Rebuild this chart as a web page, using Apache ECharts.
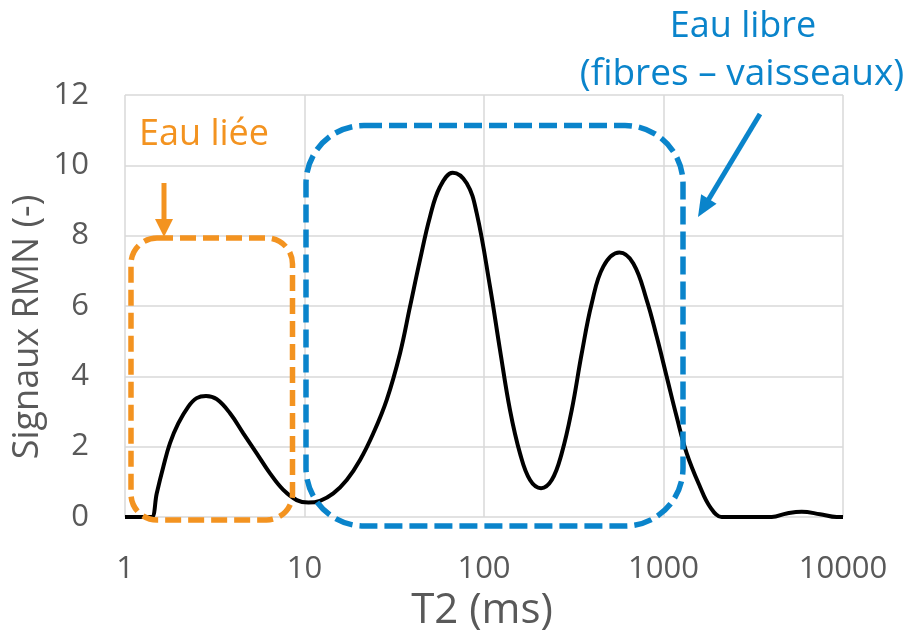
<!DOCTYPE html>
<html><head><meta charset="utf-8">
<script src="https://cdn.jsdelivr.net/npm/echarts@6/dist/echarts.min.js"></script>
<style>html,body{margin:0;padding:0;background:#fff}#c{width:912px;height:630px}</style>
</head><body><div id="c"></div>
<script>
// T2 (ms) sample positions and NMR signal
const t2 = [1, 1.3, 1.408, 1.502, 1.635, 1.781, 1.981, 2.253, 2.508, 2.827, 3.243, 3.846, 4.561, 5.416, 6.425, 7.62, 9.049, 10.5, 12.2, 14.47, 17.19, 20.39, 24.18, 28.71, 34.04, 38.7, 44.0, 50.02, 56.88, 66.93, 80.1, 91.06, 108.0, 122.8, 139.6, 158.7, 180.5, 207.8, 238.4, 271.0, 308.1, 350.3, 398.1, 461.9, 567.3, 678.9, 806.1, 916.5, 1042, 1184, 1347, 1597, 1816, 2110, 2300, 4007, 4858, 5888, 7445, 9225, 10000];
const signal = [0, 0, 0, 0.67, 1.43, 2.10, 2.66, 3.14, 3.38, 3.44, 3.35, 2.95, 2.38, 1.81, 1.24, 0.77, 0.48, 0.41, 0.46, 0.67, 1.05, 1.62, 2.38, 3.33, 4.65, 5.98, 7.31, 8.54, 9.39, 9.79, 9.49, 8.64, 6.55, 4.75, 3.04, 1.81, 1.05, 0.82, 1.05, 1.81, 3.04, 4.65, 6.07, 7.12, 7.52, 7.21, 6.17, 5.13, 3.99, 2.85, 1.81, 0.86, 0.29, 0, 0, 0, 0.1, 0.15, 0.08, 0, 0];
const xTickLabels = ['1', '10', '100', '1000', '10000'];
const yTickLabels = ['0', '2', '4', '6', '8', '10', '12'];
const xName = 'T2 (ms)';
const yName = 'Signaux RMN (-)';
const boundLabel = 'Eau liée';
const freeLabel1 = 'Eau libre';
const freeLabel2 = '(fibres – vaisseaux)';

const FONT = '"Open Sans", "Noto Sans", sans-serif';
const GRAY = '#595959';
const ORANGE = '#F39320';
const BLUE = '#0A84CB';

const chart = echarts.init(document.getElementById('c'), null, {renderer: 'canvas'});
const points = t2.map((x, i) => [x, signal[i]]);

chart.setOption({
  animation: false,
  backgroundColor: '#fff',
  grid: {left: 125, right: 69, top: 95, bottom: 113},
  xAxis: {
    type: 'log', logBase: 10, min: 1, max: 10000,
    axisLine: {show: false}, axisTick: {show: false},
    splitLine: {show: true, lineStyle: {color: '#d9d9d9', width: 1.5}},
    axisLabel: {color: GRAY, fontFamily: FONT, fontSize: 31, margin: 37,
      formatter: v => { const k = Math.round(Math.log10(v)); return xTickLabels[k] !== undefined ? xTickLabels[k] : ''; }}
  },
  yAxis: {
    type: 'value', min: 0, max: 12, interval: 2,
    axisLine: {show: false}, axisTick: {show: false},
    splitLine: {show: true, lineStyle: {color: '#d9d9d9', width: 1.5}},
    axisLabel: {color: GRAY, fontFamily: FONT, fontSize: 31, margin: 36, padding: [13, 0, 0, 0],
      formatter: v => yTickLabels[Math.round(v / 2)]}
  },
  series: [{
    type: 'line', data: points, smooth: 0.4, symbol: 'none',
    lineStyle: {color: '#000', width: 4}, z: 3
  }]
});

function arrowHead(tipX, tipY, fromX, fromY, len, half) {
  const dx = tipX - fromX, dy = tipY - fromY, L = Math.hypot(dx, dy);
  const ux = dx / L, uy = dy / L, nx = -uy, ny = ux;
  const bx = tipX - ux * len, by = tipY - uy * len;
  return {points: [[tipX, tipY], [bx + nx * half, by + ny * half], [bx - nx * half, by - ny * half]], base: [bx + ux * 2, by + uy * 2]};
}
const oHead = arrowHead(164, 237, 164, 183, 18, 9);
const bHead = arrowHead(698, 217, 760, 114, 21, 9);

chart.setOption({
  graphic: [
    {type: 'rect', z: 10, shape: {x: 131, y: 238, width: 161.5, height: 282, r: 26},
      style: {fill: 'none', stroke: ORANGE, lineWidth: 5.5, lineDash: [16, 7]}},
    {type: 'rect', z: 10, shape: {x: 306, y: 125.5, width: 377, height: 400.5, r: 58},
      style: {fill: 'none', stroke: BLUE, lineWidth: 5.5, lineDash: [18, 7]}},
    {type: 'line', z: 10, shape: {x1: 164, y1: 183, x2: oHead.base[0], y2: oHead.base[1]},
      style: {stroke: ORANGE, lineWidth: 5}},
    {type: 'polygon', z: 10, shape: {points: oHead.points}, style: {fill: ORANGE}},
    {type: 'line', z: 10, shape: {x1: 760, y1: 114, x2: bHead.base[0], y2: bHead.base[1]},
      style: {stroke: BLUE, lineWidth: 5}},
    {type: 'polygon', z: 10, shape: {points: bHead.points}, style: {fill: BLUE}},
    {type: 'text', z: 10, x: 204, y: 134.7, style: {text: boundLabel, fill: ORANGE, font: '36px ' + FONT, textAlign: 'center', textVerticalAlign: 'middle'}},
    {type: 'text', z: 10, x: 743, y: 26.7, style: {text: freeLabel1, fill: BLUE, font: '36px ' + FONT, textAlign: 'center', textVerticalAlign: 'middle'}},
    {type: 'text', z: 10, x: 742, y: 74.7, style: {text: freeLabel2, fill: BLUE, font: '37px ' + FONT, textAlign: 'center', textVerticalAlign: 'middle'}},
    {type: 'text', z: 10, x: 482, y: 610.6, style: {text: xName, fill: GRAY, font: '42px ' + FONT, textAlign: 'center', textVerticalAlign: 'middle'}},
    {type: 'text', z: 10, x: 27.3, y: 327, rotation: Math.PI / 2, style: {text: yName, fill: GRAY, font: '36px ' + FONT, textAlign: 'center', textVerticalAlign: 'middle'}}
  ]
});
</script></body></html>
